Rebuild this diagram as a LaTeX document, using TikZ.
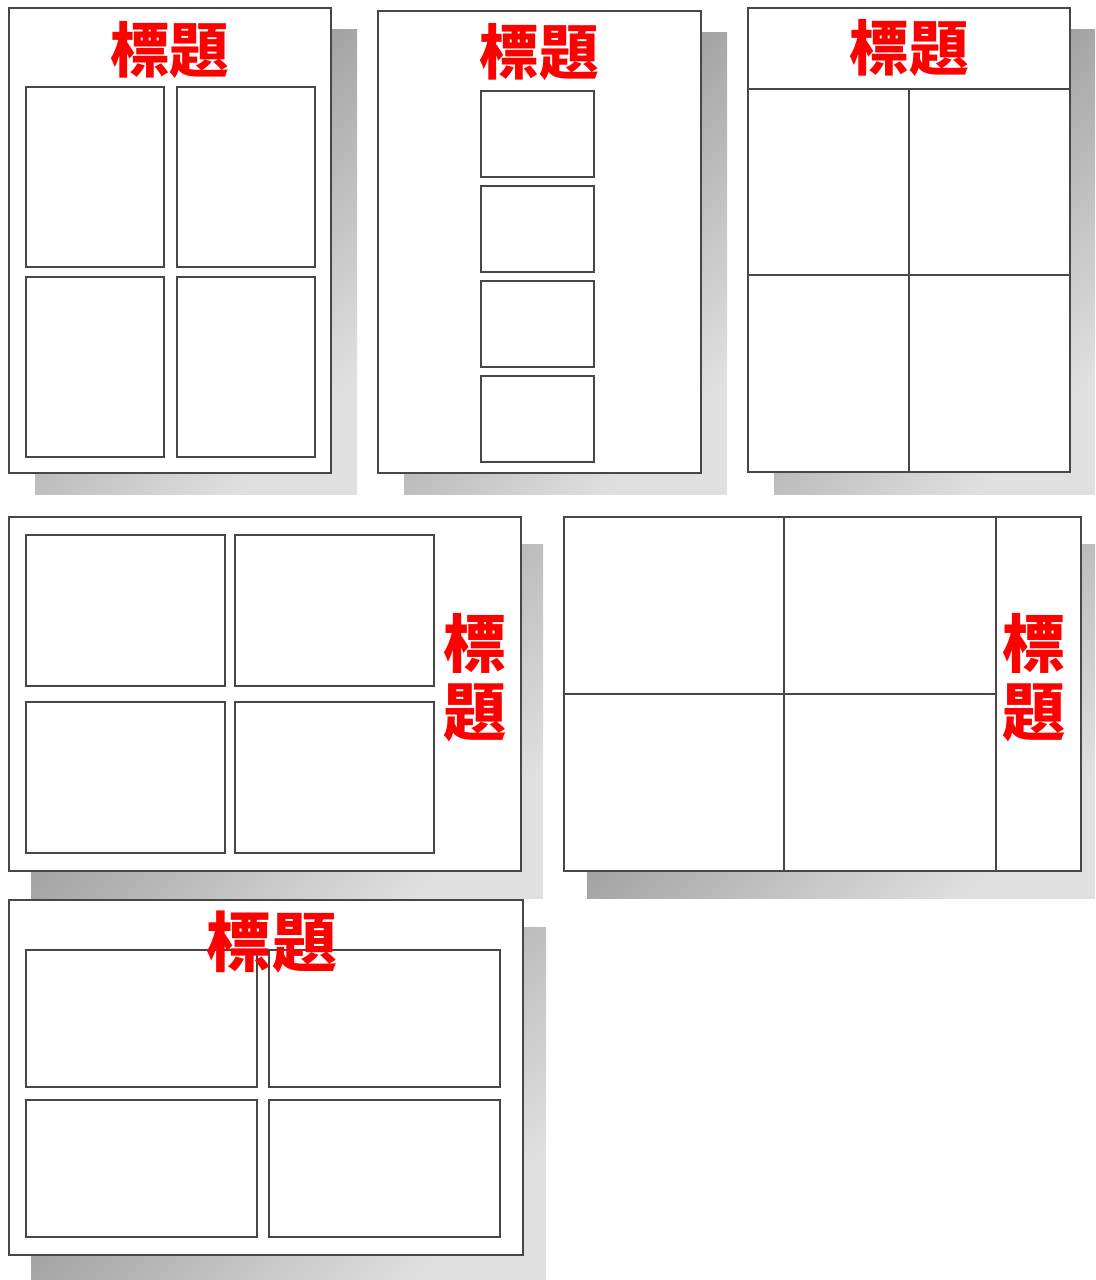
\documentclass[tikz,border=0pt]{standalone}
\usepackage{fontspec}
\newfontfamily\cjk{Noto Sans CJK TC}
\usetikzlibrary{positioning}

\tikzset{
  page/.style={draw=black!72, line width=0.4pt, fill=white},
  shadowbox/.style={shading=axis, top color=black!48, bottom color=black!12, shading angle=45},
  panel/.style={draw=black!72, line width=0.35pt},
  heading/.style={text=red, inner sep=0pt, font=\cjk\bfseries\fontsize{17}{17}\selectfont},
  vheading/.style={heading, font=\cjk\bfseries\fontsize{18}{18}\selectfont}
}

\begin{document}
\begin{tikzpicture}[x=0.1mm, y=-0.1mm]
\useasboundingbox (0,0) rectangle (1095,1280);

% top row: portrait pages
\fill[shadowbox] (35,29) rectangle (357,494);
\draw[page] (9,8) rectangle (331,473);
\foreach \x/\y in {26/87, 177/87, 26/277, 177/277}
\draw[panel] (\x,\y) rectangle ++(138,180);
\node[heading] (title1) at (170,50) {標題};

\fill[shadowbox] (404,32) rectangle (727,494);
\draw[page] (378,11) rectangle (701,473);
\foreach \y in {91, 186, 281, 376}
\draw[panel] (481,\y) rectangle ++(113,86);
\node[heading] (title2) at (539,52) {標題};

\fill[shadowbox] (774,29) rectangle (1095,494);
\draw[page] (748,8) rectangle (1070,472);
\draw[panel] (748,89) -- (1070,89) (909,89) -- (909,472) (748,275) -- (1070,275);
\node[heading] (title3) at (909,48) {標題};

% middle row: landscape pages, title on the right
\fill[shadowbox] (31,544) rectangle (543,898);
\draw[page] (9,517) rectangle (521,871);
\foreach \x/\y in {26/535, 235/535, 26/702, 235/702}
\draw[panel] (\x,\y) rectangle ++(199,151);
\node[vheading] (title4a) at (475,643) {標};
\node[vheading, below=0.9mm of title4a] (title4b) {題};

\fill[shadowbox] (587,544) rectangle (1095,898);
\draw[page] (564,517) rectangle (1081,871);
\draw[panel] (784,517) -- (784,871) (996,517) -- (996,871) (564,694) -- (996,694);
\node[vheading] (title5a) at (1034,643) {標};
\node[vheading, below=0.9mm of title5a] (title5b) {題};

% bottom row
\fill[shadowbox] (31,927) rectangle (546,1280);
\draw[page] (9,900) rectangle (523,1255);
\foreach \x/\y in {26/950, 269/950, 26/1100, 269/1100}
\draw[panel] (\x,\y) rectangle ++(231,137);
\node[heading, font=\cjk\bfseries\fontsize{18.5}{18.5}\selectfont] (title6) at (272,942) {標題};

\end{tikzpicture}
\end{document}
